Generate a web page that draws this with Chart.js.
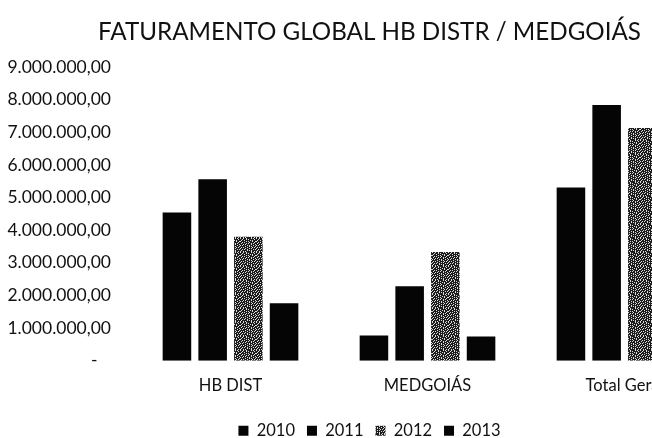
<!DOCTYPE html>
<html>
<head>
<meta charset="utf-8">
<script src="https://cdn.jsdelivr.net/npm/chart.js@4.4.1/dist/chart.umd.min.js"></script>
<style>
    html, body { margin: 0; padding: 0; background: #fff; overflow: hidden; }
    #wrap { width: 652px; height: 438px; overflow: hidden; }
</style>
</head>
<body>
<div id="wrap"><canvas id="faturamentoChart" width="740" height="451"></canvas></div>
<script>
var categories = ['HB DIST', 'MEDGOIÁS', 'Total Geral'];
var years = ['2010', '2011', '2012', '2013'];
var vendas2010 = [4540000, 770000, 5310000];
var vendas2011 = [5560000, 2280000, 7840000];
var vendas2012 = [3800000, 3330000, 7130000];
var vendas2013 = [1760000, 740000, 2500000];
var yTicks = [0, 1000000, 2000000, 3000000, 4000000, 5000000, 6000000, 7000000, 8000000, 9000000];

// textura cinza (impressão pontilhada) para 2012
function grayPattern() {
    var rows = [
        '#..#..#....#.#..',
        '..#...#.#.....#.',
        '.#..#.....#.#...',
        '#.....#.#...#..#',
        '..#.#....#....#.',
        '.#....#.#..#.#..',
        '...#.#.....#...#',
        '#.#....#.#...#..',
        '.....#...#.#...#',
        '.#.#...#....#.#.',
        '#....#...#.#....',
        '..#.#..#.....#.#',
        '.#.....#.#.#....',
        '#..#.#.....#..#.'
    ];
    var c = document.createElement('canvas');
    c.width = rows[0].length;
    c.height = rows.length;
    var g = c.getContext('2d');
    g.fillStyle = '#1c1c1c';
    g.fillRect(0, 0, c.width, c.height);
    g.fillStyle = '#dcdcdc';
    rows.forEach(function (row, y) {
        for (var x = 0; x < row.length; x++) {
            if (row[x] === '#') g.fillRect(x, y, 1, 1);
        }
    });
    return g.createPattern(c, 'repeat');
}

var ctx = document.getElementById('faturamentoChart').getContext('2d');
var pattern2012 = grayPattern();
var series = [vendas2010, vendas2011, vendas2012, vendas2013];
var fills = ['#050505', '#050505', pattern2012, '#050505'];

// os rótulos do eixo Y passam da margem esquerda: não cortar
var eixoYLivre = {
    id: 'eixoYLivre',
    afterLayout: function (c) { c.scales.y.left = 0; }
};

var chart = new Chart(ctx, {
    type: 'bar',
    data: {
        labels: categories,
        datasets: series.map(function (s, i) {
            return {
                label: years[i],
                data: s,
                backgroundColor: fills[i],
                borderWidth: 0,
                categoryPercentage: 0.725,
                barPercentage: 0.8
            };
        })
    },
    options: {
        responsive: false,
        animation: false,
        layout: { padding: { left: 16, right: 17, top: 0, bottom: 2 } },
        plugins: {
            title: {
                display: true,
                text: 'FATURAMENTO GLOBAL HB DISTR / MEDGOIÁS',
                color: '#111',
                font: { family: 'Lato', size: 24.2, weight: 'normal' },
                padding: { top: 18, bottom: 20 }
            },
            legend: {
                position: 'bottom',
                labels: {
                    color: '#111',
                    font: { family: 'Lato', size: 16.5 },
                    boxWidth: 10,
                    boxHeight: 10,
                    padding: 12
                }
            },
            tooltip: { enabled: false }
        },
        scales: {
            x: {
                grid: { display: false, drawTicks: false },
                border: { display: false },
                ticks: { color: '#111', font: { family: 'Lato', size: 16.5 }, padding: 15 }
            },
            y: {
                min: 0,
                max: 9000000,
                afterBuildTicks: function (scale) {
                    scale.ticks = yTicks.map(function (v) { return { value: v }; });
                },
                afterFit: function (scale) { scale.width = 116; },
                grid: { display: false, drawTicks: false },
                border: { display: false },
                ticks: {
                    color: '#111',
                    font: { family: 'Lato', size: 17.5 },
                    padding: 21,
                    callback: function (v) {
                        if (v === 0) return '-   ';
                        return v.toLocaleString('pt-BR', { minimumFractionDigits: 2 });
                    }
                }
            }
        }
    },
    plugins: [eixoYLivre]
});
</script>
</body>
</html>
